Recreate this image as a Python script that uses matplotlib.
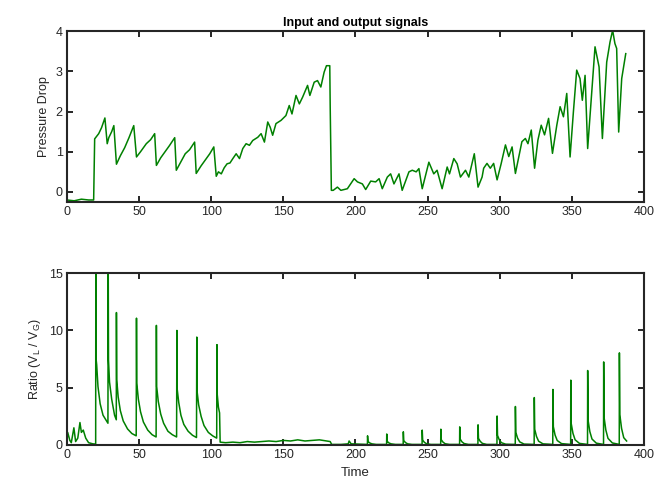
import matplotlib.pyplot as plt

# pressure drop (top panel) in four stretches
slug_time = [0, 5, 10, 15, 18.5, 19, 19.2, 22, 24, 26.3,
             27.9, 29, 31, 32.5, 34.3, 37, 40, 43, 46.3, 48.2,
             51, 55, 58, 60.8, 62, 65, 68, 71, 74.7, 75.8,
             79, 82, 85, 88.5, 89.6, 93, 96, 99, 101.8, 103.5]
slug_dp = [-0.2, -0.22, -0.18, -0.2, -0.2, 1.0, 1.32, 1.45, 1.6, 1.84,
           1.2, 1.35, 1.5, 1.65, 0.69, 0.9, 1.1, 1.35, 1.65, 0.87,
           1.0, 1.2, 1.3, 1.45, 0.66, 0.85, 1.0, 1.15, 1.35, 0.54,
           0.75, 0.95, 1.05, 1.24, 0.46, 0.65, 0.8, 0.95, 1.12, 0.39]

ramp_time = [105, 107, 109, 111, 113, 115,
             117.3, 119.6, 121.9, 124.2, 126.5, 128.8,
             132.3, 134.6, 136.9, 139.2, 140.9, 142.6,
             144.9, 148.4, 151.8, 154.1, 156, 158.8,
             161.1, 163.4, 166.8, 168.4, 171.4, 173.7,
             176, 178.3, 179.9, 182.2, 182.5, 183.3]
ramp_dp = [0.5, 0.45, 0.6, 0.7, 0.72, 0.83,
           0.95, 0.83, 1.08, 1.2, 1.16, 1.28,
           1.36, 1.45, 1.24, 1.74, 1.61, 1.41,
           1.7, 1.78, 1.9, 2.15, 1.94, 2.4,
           2.19, 2.36, 2.65, 2.4, 2.73, 2.77,
           2.61, 2.98, 3.14, 3.14, 2.12, 0.04]

low_time = [184.6, 187.5, 189.9, 194.4, 199.1, 201.4,
            204.8, 207.1, 210.6, 214, 216.4, 218.6,
            222.1, 224.4, 226.7, 230.2, 232.4, 237.1,
            239.4, 242.1, 244, 246.3, 250.9, 254.3,
            256.6, 260.1, 263.6, 265.2, 268.2, 270.5,
            272.8, 276.3, 278.6, 282.4, 285, 287.8]
low_dp = [0.04, 0.12, 0.04, 0.08, 0.33, 0.25,
          0.2, 0.06, 0.27, 0.25, 0.33, 0.08,
          0.37, 0.45, 0.2, 0.45, 0.04, 0.5,
          0.54, 0.5, 0.58, 0.08, 0.74, 0.45,
          0.54, 0.08, 0.62, 0.45, 0.83, 0.7,
          0.37, 0.54, 0.37, 0.95, 0.12, 0.37]

rise_time = [288.9, 291.2, 293.5, 295.8, 298.2, 301, 304,
             306.3, 308.6, 310.9, 315.4, 317.8, 319.6,
             321.9, 324.2, 326.5, 328.8, 331.1, 333.9,
             336.6, 339.6, 341.9, 344.2, 346.5, 348.8,
             351.1, 353.4, 355.7, 357.3, 359.2, 361,
             363.8, 366.1, 368.9, 371.2, 374.2, 376.5,
             378.3, 379.9, 381.1, 382.5, 384.6, 387.4]
rise_dp = [0.59, 0.71, 0.59, 0.71, 0.3, 0.7, 1.17,
           0.88, 1.12, 0.46, 1.25, 1.33, 1.2,
           1.54, 0.59, 1.29, 1.66, 1.42, 1.83,
           0.96, 1.66, 2.12, 1.87, 2.45, 0.87,
           1.99, 3.03, 2.82, 2.28, 2.9, 1.08,
           2.49, 3.61, 3.11, 1.33, 3.23, 3.73,
           4.02, 3.69, 3.57, 1.49, 2.82, 3.44]

# liquid/gas ratio (bottom panel)
bot_time = [0, 0.5, 2, 3, 4.8, 6, 7.5, 9, 10, 11.3, 13, 15, 18, 19.9,
            # slugs 20 .. 104
            20.0, 20.2, 20.6, 21.5, 23, 25, 28.4,
            28.6, 28.8, 29.5, 31, 33, 34.2,
            34.3, 34.5, 35.5, 37, 39, 42, 45, 48.0,
            48.2, 48.4, 49.5, 51, 53, 56, 59, 61.8,
            62.0, 62.2, 63.3, 65, 67, 70, 73, 76.0,
            76.2, 76.4, 77.5, 79, 81, 84, 87, 89.8,
            90.0, 90.2, 91.3, 93, 95, 98, 101, 103.8,
            104.0, 104.2, 105, 105.8, 106.2,
            # quiet stretch
            110, 115, 120, 125, 130, 135, 140, 145, 150, 155,
            160, 165, 170, 175, 180, 182.5, 183.5, 190, 195, 195.6, 197,
            # late spikes
            208.3, 208.4, 208.7, 209.9, 211.4, 214.4,
            221.6, 221.7, 222.0, 223.2, 224.7, 227.7,
            233.1, 233.2, 233.5, 234.7, 236.2, 239.2,
            246.2, 246.3, 246.6, 247.8, 249.3, 252.3,
            259.1, 259.2, 259.5, 260.7, 262.2, 265.2,
            272.2, 272.3, 272.6, 273.8, 275.3, 278.3,
            284.9, 285.0, 285.3, 286.5, 288.0, 291.0,
            298.1, 298.2, 298.5, 299.7, 301.2, 304.2,
            310.8, 310.9, 311.2, 312.4, 313.9, 316.9,
            323.9, 324.0, 324.3, 325.5, 327.0, 330.0,
            336.8, 336.9, 337.2, 338.4, 339.9, 342.9,
            349.2, 349.3, 349.6, 350.8, 352.3, 355.3,
            360.9, 361.0, 361.3, 362.5, 364.0, 367.0,
            372.0, 372.1, 372.4, 373.6, 375.1, 378.1,
            382.9, 383.0, 383.3, 384.5, 386.0, 388.0]
bot_ratio = [0.3, 1.1, 0.4, 0.2, 1.5, 0.3, 0.6, 1.96, 1.1, 1.3, 0.6, 0.2, 0.1, 0.08,
             16, 7.5, 7.0, 5.1, 3.6, 2.6, 1.9,
             16, 7.4, 5.5, 4.0, 2.6, 2.2,
             11.56, 5.7, 4.2, 3.0, 2.1, 1.4, 1.0, 0.8,
             11.07, 5.4, 4.0, 2.9, 2.0, 1.3, 0.9, 0.7,
             10.44, 5.1, 3.8, 2.7, 1.9, 1.2, 0.9, 0.7,
             10.0, 4.9, 3.7, 2.6, 1.8, 1.2, 0.85, 0.65,
             9.42, 4.7, 3.5, 2.5, 1.7, 1.1, 0.8, 0.6,
             8.76, 4.4, 3.3, 2.8, 0.25,
             0.2, 0.25, 0.2, 0.3, 0.25, 0.3, 0.35, 0.3, 0.4, 0.35,
             0.45, 0.35, 0.4, 0.45, 0.35, 0.3, 0.05, 0.05, 0.1, 0.35, 0.1,
             0.05, 0.8, 0.3, 0.18, 0.1, 0.05,
             0.05, 0.96, 0.32, 0.18, 0.1, 0.05,
             0.05, 1.15, 0.38, 0.21, 0.1, 0.05,
             0.05, 1.3, 0.43, 0.23, 0.11, 0.05,
             0.05, 1.38, 0.46, 0.25, 0.11, 0.05,
             0.05, 1.58, 0.52, 0.28, 0.13, 0.05,
             0.05, 1.76, 0.58, 0.32, 0.14, 0.05,
             0.05, 2.53, 0.84, 0.46, 0.2, 0.07,
             0.05, 3.36, 1.1, 0.6, 0.27, 0.08,
             0.05, 4.14, 1.37, 0.75, 0.33, 0.1,
             0.05, 4.85, 1.6, 0.87, 0.39, 0.12,
             0.05, 5.66, 1.87, 1.02, 0.45, 0.14,
             0.05, 6.5, 2.15, 1.17, 0.52, 0.16,
             0.05, 7.25, 2.4, 1.3, 0.58, 0.18,
             0.05, 8.04, 2.65, 1.45, 0.64, 0.35]

top_time = slug_time + ramp_time + low_time + rise_time
top_pressure = slug_dp + ramp_dp + low_dp + rise_dp

plt.rcParams['font.family'] = ['Liberation Sans', 'DejaVu Sans']
green = '#008000'
txt = '#262626'

fig = plt.figure(figsize=(6.67, 4.91), dpi=100)
ax1 = fig.add_axes([0.1004, 0.5886, 0.865, 0.348])
ax2 = fig.add_axes([0.1004, 0.0937, 0.865, 0.350])

ax1.plot(top_time, top_pressure, color=green, lw=1.1)
ax1.set_xlim(0, 400)
ax1.set_ylim(-0.25, 4)
ax1.set_yticks([0, 1, 2, 3, 4])
ax1.set_ylabel('Pressure Drop', fontsize=9, color=txt)
ax1.set_title('Input and output signals', fontsize=9, fontweight='bold', pad=4)

ax2.plot(bot_time, bot_ratio, color=green, lw=1.1)
ax2.set_xlim(0, 400)
ax2.set_ylim(0, 15)
ax2.set_yticks([0, 5, 10, 15])
ax2.set_ylabel(r'Ratio (V$_\mathregular{L}$ / V$_\mathregular{G}$)', fontsize=9, color=txt)
ax2.set_xlabel('Time', fontsize=9.5, color=txt)

for ax in (ax1, ax2):
    ax.set_xticks(range(0, 401, 50))
    ax.tick_params(direction='in', top=True, right=True, length=4, width=1.2,
                   labelsize=9, labelcolor=txt, pad=3)
    for s in ax.spines.values():
        s.set_linewidth(1.5)
        s.set_color('#262626')

fig.savefig('out.png', dpi=100)
